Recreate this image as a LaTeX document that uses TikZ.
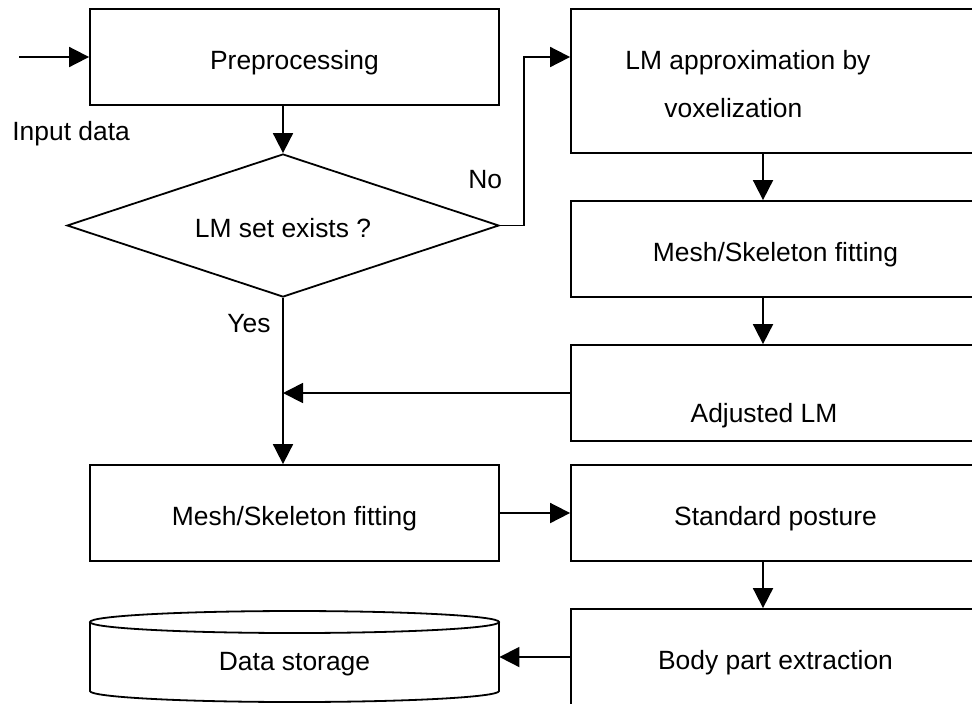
\documentclass[tikz,border=0pt]{standalone}
\usepackage{fontspec}
\setmainfont{Liberation Sans}
\usetikzlibrary{arrows.meta,shapes.geometric}

\tikzset{
  boite/.style={draw, line width=0.9pt, minimum width=204.5pt, minimum height=48pt,
    inner sep=0pt, text height=12pt, text depth=0pt},
  fleche/.style={line width=0.9pt, -{Triangle[length=10pt,width=10pt]}},
  ligne/.style={line width=0.9pt},
  etiquette/.style={anchor=base west, inner sep=0pt}
}

\begin{document}
\begin{tikzpicture}[x=0.5pt, y=-0.5pt, font=\fontsize{13.2}{16}\selectfont]
  \useasboundingbox (0,0) rectangle (972,703);
  \clip (0,0) rectangle (972,703);

  % Les colonnes
  \coordinate (colL) at (283,0);
  \coordinate (colR) at (763,0);
  \coordinate (entree) at (19,57);

  % Les boites
  \node[boite] (prep) at (294.5,57) {Preprocessing};
  \node[draw, ligne, diamond, aspect=3, minimum width=216pt, minimum height=71.5pt,
    inner sep=0pt, text height=12pt, text depth=0pt] (test) at (283,225.5) {LM set exists ?};
  \node[boite, minimum height=72pt] (approx) at (775.5,81) {};
  \node[boite] (meshR) at (775.5,249) {Mesh/Skeleton fitting};
  \node[boite] (ajust) at (775.5,393) {};
  \node[boite] (meshL) at (294.5,513) {Mesh/Skeleton fitting};
  \node[boite] (posture) at (775.5,513) {Standard posture};
  \node[boite] (parties) at (775.5,657) {Body part extraction};

  % Le cylindre
  \node[minimum width=204.5pt, inner sep=0pt, text height=12pt, text depth=0pt] (stock) at (294.5,658) {Data storage};
  \draw[ligne] (294.5,622) ellipse [x radius=102.25pt, y radius=5.5pt];
  \draw[ligne] (90,622) -- (90,691) arc[start angle=180, end angle=360, x radius=102.25pt, y radius=5.5pt] -- (499,622);

  % Les textes
  \node[anchor=west, inner sep=0pt, align=left, font=\fontsize{13.2}{24}\selectfont]
    (approxtxt) at (625,84) {LM approximation by\\\hspace*{19.5pt}voxelization};
  \node[anchor=base, inner sep=0pt] (ajusttxt) at (764,422) {Adjusted LM};
  \node[etiquette] (lblin) at (12,140) {Input data};
  \node[etiquette] (lblno) at (468,188) {No};
  \node[etiquette] (lbloui) at (227,332) {Yes};

  % Les fleches
  \draw[fleche] (entree) -- (prep.west);
  \draw[fleche] (colL |- prep.south) -- (test.north);
  \draw[fleche] (test.east) -- ++(24,0) |- (approx.west |- prep.east);
  \draw[fleche] (colR |- approx.south) -- (colR |- meshR.north);
  \draw[fleche] (colR |- meshR.south) -- (colR |- ajust.north);
  \draw[fleche] (ajust.west) -- (colL |- ajust.west);
  \draw[fleche] (test.south) -- (colL |- meshL.north);
  \draw[fleche] (meshL.east) -- (posture.west);
  \draw[fleche] (colR |- posture.south) -- (colR |- parties.north);
  \draw[fleche] (parties.west) -- (parties.west -| stock.east);
\end{tikzpicture}
\end{document}
